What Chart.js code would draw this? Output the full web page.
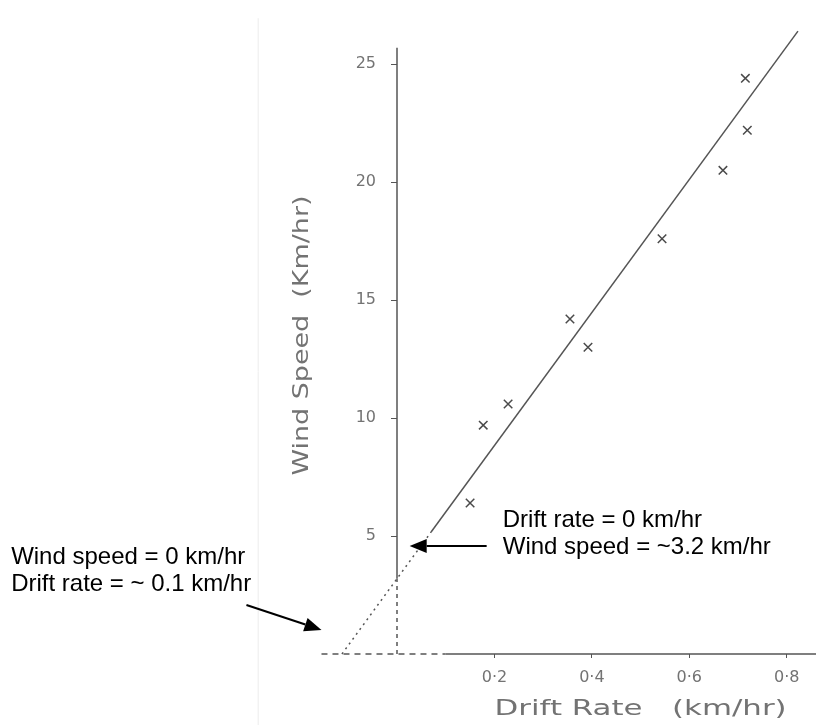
<!DOCTYPE html>
<html>
<head>
<meta charset="utf-8">
<title>Wind Speed vs Drift Rate</title>
<script src="https://cdn.jsdelivr.net/npm/chart.js"></script>
<style>
  html, body { margin: 0; padding: 0; background: #ffffff; }
  #wrap { width: 816px; height: 725px; position: relative; }
</style>
</head>
<body>
<div id="wrap"><canvas id="driftChart" width="816" height="725"></canvas></div>
<script>
// Measured points (drift rate km/hr, wind speed km/hr)
var driftRate = [0.150, 0.177, 0.228, 0.355, 0.392, 0.544, 0.669, 0.719, 0.715];
var windSpeed = [6.4, 9.7, 10.6, 14.2, 13.0, 17.6, 20.5, 22.2, 24.4];

// Hand drawn best fit line, solid part and dotted extrapolation to the axes
var fitX = [0.07, 0.823];
var fitY = [5.17, 26.4];
var extX = [-0.113, 0.07];
var extY = [0, 5.17];

// Axis lines as they were drawn (solid and dashed parts)
var yAxisSolidY = [3.2, 25.7];
var yAxisDashY = [0, 3.2];
var xAxisDashX = [-0.155, 0.1];
var xAxisSolidX = [0.1, 0.86];

// Tick labels
var yTickValues = [5, 10, 15, 20, 25];
var xTickValues = [0.2, 0.4, 0.6, 0.8];
var xTickLabels = ['0·2', '0·4', '0·6', '0·8'];

// Axis titles
var yTitle = 'Wind Speed  (Km/hr)';
var xTitle = 'Drift Rate   (km/hr)';

// Typed annotations with arrows (data coordinates)
var notes = [
  { lines: ['Drift rate = 0 km/hr', 'Wind speed = ~3.2 km/hr'],
    at: [0.217, 5.38], from: [0.184, 4.58], to: [0.026, 4.58] },
  { lines: ['Wind speed = 0 km/hr', 'Drift rate = ~ 0.1 km/hr'],
    at: [-0.792, 3.81], from: [-0.309, 2.08], to: [-0.155, 1.02] }
];

var inkColor = '#555555';
var penColor = '#737373';

function toPoints(xs, ys) {
  return xs.map(function(x, i) { return { x: x, y: ys[i] }; });
}

function straightLine(data, dash) {
  return {
    type: 'line',
    data: data,
    borderColor: inkColor,
    borderWidth: 1.5,
    borderDash: dash || [],
    pointRadius: 0,
    fill: false,
    clip: false
  };
}

// Axis titles, annotations and arrows
var notesPlugin = {
  id: 'notes',
  afterDraw: function(chart) {
    var ctx = chart.ctx;
    var xs = chart.scales.x;
    var ys = chart.scales.y;

    // faint edge of the scanned sheet
    ctx.save();
    ctx.strokeStyle = '#ececec';
    ctx.lineWidth = 1;
    ctx.beginPath();
    ctx.moveTo(xs.getPixelForValue(-0.286) + 0.5, ys.getPixelForValue(26.95));
    ctx.lineTo(xs.getPixelForValue(-0.286) + 0.5, chart.height);
    ctx.stroke();
    ctx.restore();

    // hand written axis titles
    drawStretched(ctx, yTitle, xs.getPixelForValue(-0.194), ys.getPixelForValue(13.5), 280, -Math.PI / 2);
    drawStretched(ctx, xTitle, xs.getPixelForValue(0.5), ys.getPixelForValue(0) + 56, 292, 0);

    // typed notes
    ctx.save();
    ctx.fillStyle = '#000000';
    ctx.strokeStyle = '#000000';
    ctx.font = '24px "Liberation Sans", Arial, sans-serif';
    ctx.textBaseline = 'alphabetic';
    notes.forEach(function(n) {
      var px = xs.getPixelForValue(n.at[0]);
      var py = ys.getPixelForValue(n.at[1]);
      n.lines.forEach(function(line, i) {
        ctx.fillText(line, px, py + i * 27);
      });
      drawArrow(ctx,
        xs.getPixelForValue(n.from[0]), ys.getPixelForValue(n.from[1]),
        xs.getPixelForValue(n.to[0]), ys.getPixelForValue(n.to[1]));
    });
    ctx.restore();
  }
};

function drawStretched(ctx, text, cx, cy, width, angle) {
  ctx.save();
  ctx.font = '21px "DejaVu Sans", sans-serif';
  ctx.fillStyle = penColor;
  ctx.textAlign = 'center';
  ctx.textBaseline = 'middle';
  var w = ctx.measureText(text).width;
  ctx.translate(cx, cy);
  ctx.rotate(angle);
  ctx.scale(width / w, 1);
  ctx.fillText(text, 0, 0);
  ctx.restore();
}

function drawArrow(ctx, x1, y1, x2, y2) {
  var a = Math.atan2(y2 - y1, x2 - x1);
  var len = 17, half = 7;
  var bx = x2 - len * Math.cos(a);
  var by = y2 - len * Math.sin(a);
  ctx.lineWidth = 2;
  ctx.beginPath();
  ctx.moveTo(x1, y1);
  ctx.lineTo(bx, by);
  ctx.stroke();
  ctx.beginPath();
  ctx.moveTo(x2, y2);
  ctx.lineTo(bx + half * Math.sin(a), by - half * Math.cos(a));
  ctx.lineTo(bx - half * Math.sin(a), by + half * Math.cos(a));
  ctx.closePath();
  ctx.fill();
}

// Keep the layout fixed: no extra padding from tick labels
function noPadding(axis) {
  axis.paddingLeft = 0;
  axis.paddingRight = 0;
  axis.paddingTop = 0;
  axis.paddingBottom = 0;
}

var tickFont = { family: '"DejaVu Sans", sans-serif', size: 16 };

var ctx = document.getElementById('driftChart').getContext('2d');
var driftChart = new Chart(ctx, {
  type: 'scatter',
  data: {
    datasets: [{
      label: 'Observations',
      data: toPoints(driftRate, windSpeed),
      pointStyle: 'crossRot',
      pointRadius: 6,
      borderColor: '#4a4a4a',
      borderWidth: 1.5,
      showLine: false
    },
      straightLine(toPoints(fitX, fitY)),
      straightLine(toPoints(extX, extY), [2, 4]),
      straightLine(toPoints([0, 0], yAxisSolidY)),
      straightLine(toPoints([0, 0], yAxisDashY), [4, 4]),
      straightLine(toPoints(xAxisDashX, [0, 0]), [6, 5]),
      straightLine(toPoints(xAxisSolidX, [0, 0]))
    ]
  },
  options: {
    responsive: false,
    animation: false,
    layout: {
      autoPadding: false,
      padding: { left: 0, right: 0, top: 17, bottom: 0 }
    },
    plugins: {
      legend: { display: false },
      tooltip: { enabled: false }
    },
    scales: {
      x: {
        type: 'linear',
        min: 0,
        max: 0.86,
        position: 'bottom',
        afterBuildTicks: function(axis) {
          axis.ticks = xTickValues.map(function(v) { return { value: v }; });
        },
        afterFit: function(axis) {
          axis.height = 71;
          noPadding(axis);
        },
        grid: { display: true, drawOnChartArea: false, drawTicks: true, tickLength: 4, color: inkColor },
        border: { display: false },
        ticks: {
          autoSkip: false,
          maxRotation: 0,
          padding: 10,
          color: penColor,
          font: tickFont,
          callback: function(value) { return xTickLabels[xTickValues.indexOf(value)]; }
        }
      },
      y: {
        type: 'linear',
        min: 0,
        max: 27,
        position: 'left',
        afterBuildTicks: function(axis) {
          axis.ticks = yTickValues.map(function(v) { return { value: v }; });
        },
        afterFit: function(axis) {
          axis.width = 397;
          noPadding(axis);
        },
        grid: { display: true, drawOnChartArea: false, drawTicks: true, tickLength: 6, color: inkColor },
        border: { display: false },
        ticks: {
          autoSkip: false,
          padding: 15,
          color: penColor,
          font: tickFont
        }
      }
    }
  },
  plugins: [notesPlugin]
});
</script>
</body>
</html>
